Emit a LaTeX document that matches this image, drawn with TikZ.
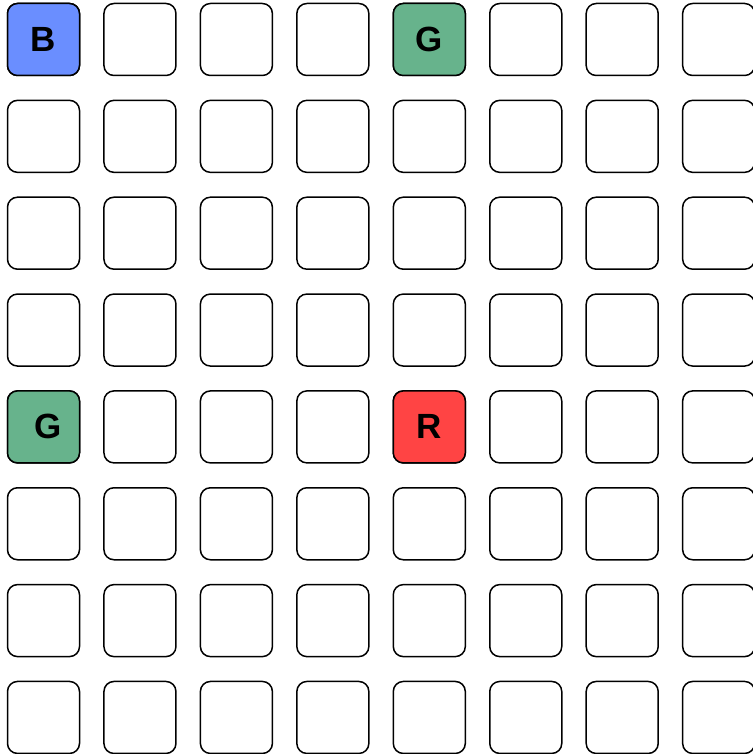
\documentclass[tikz,border=0pt]{standalone}
\usepackage{fontspec}
\setmainfont{Liberation Sans}
\definecolor{cblue}{HTML}{6A8EFF}
\definecolor{cgreen}{HTML}{67B38C}
\definecolor{cred}{HTML}{FF4444}
\tikzset{
  cell/.style={draw=black, line width=1.5pt, rounded corners=10pt, minimum width=72pt, minimum height=72pt, inner sep=0pt, fill=white, font=\fontsize{35}{35}\selectfont\bfseries},
}
\begin{document}
\begin{tikzpicture}[x=1pt,y=1pt]
\useasboundingbox (0,0) rectangle (752,-754);
\foreach \i in {0,...,7}{
  \foreach \j in {0,...,7}{
    \node[cell] (c-\i-\j) at ({43.5+96.45*\i},{-(39.5+96.85*\j)}) {};
  }
}
\node[cell, fill=cblue] (b) at (c-0-0) {B};
\node[cell, fill=cgreen] (g1) at (c-4-0) {G};
\node[cell, fill=cgreen] (g2) at (c-0-4) {\hspace*{10pt}G};
\node[cell, fill=cred] (r) at (c-4-4) {R};
\end{tikzpicture}
\end{document}
